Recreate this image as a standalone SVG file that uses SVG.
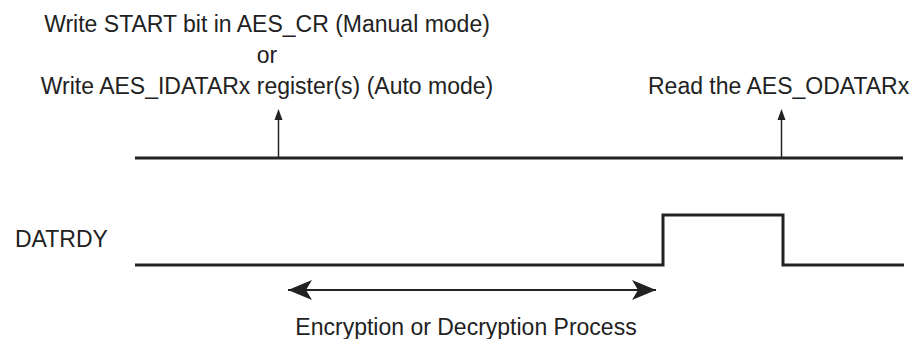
<svg xmlns="http://www.w3.org/2000/svg" width="922" height="339" viewBox="0 0 922 339">
<style>
text{font-family:"Liberation Sans",Arial,sans-serif;font-size:23px;fill:#222}
.sig{fill:none;stroke:#222;stroke-width:3}
.thin{fill:none;stroke:#222;stroke-width:1.5}
.dbl{fill:none;stroke:#222;stroke-width:2.2}
.head{fill:#222}
</style>
<defs>
<marker id="big" viewBox="-26 -11 27 22" refX="0" refY="0" markerWidth="27" markerHeight="22" markerUnits="userSpaceOnUse" orient="auto-start-reverse">
<path d="M0,0 L-24,-10 L-18,0 L-24,10 Z" fill="#222"/>
</marker>
</defs>
<g id="label-write">
<text x="267" y="32" text-anchor="middle">Write START bit in AES_CR (Manual mode)</text>
<text x="267" y="63" text-anchor="middle">or</text>
<text x="267" y="94" text-anchor="middle">Write AES_IDATARx register(s) (Auto mode)</text>
</g>
<g id="label-read">
<text x="648" y="94">Read the AES_ODATARx</text>
</g>
<g id="label-datrdy">
<text x="15" y="247">DATRDY</text>
</g>
<g id="label-process">
<text x="466" y="335" text-anchor="middle">Encryption or Decryption Process</text>
</g>
<g id="connectors">
<line class="sig" x1="135" y1="158" x2="903" y2="158"/>
<polyline class="sig" points="135,265 663,265 663,215 783,215 783,265 904,265"/>
<line class="thin" x1="278.5" y1="157" x2="278.5" y2="119"/>
<path class="head" d="M274.5,120 L278.5,109 L282.5,120 Z"/>
<line class="thin" x1="781.5" y1="157" x2="781.5" y2="119"/>
<path class="head" d="M777.5,120 L781.5,109 L785.5,120 Z"/>
<line class="dbl" x1="288" y1="290" x2="656" y2="290" marker-start="url(#big)" marker-end="url(#big)"/>
</g>
</svg>
